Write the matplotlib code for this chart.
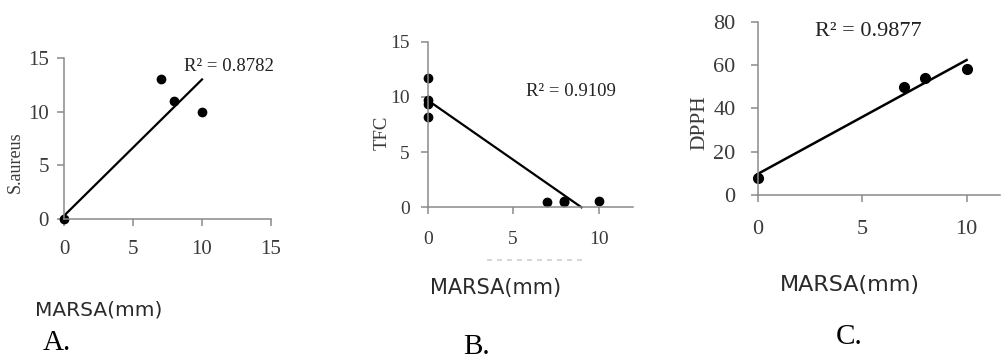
import matplotlib
matplotlib.use("Agg")
import matplotlib.pyplot as plt
from matplotlib.lines import Line2D

""" Data read from the three panels """
# A. S.aureus vs MARSA
a_x = [0, 7, 8, 10]
a_y = [0, 13, 11, 10]
a_fit_x = [0, 10]
a_fit_y = [0.3, 13.0]
a_r2 = "R² = 0.8782"

# B. TFC vs MARSA
b_x = [0, 0, 0, 0, 7, 8, 8, 10]
b_y = [11.7, 9.7, 9.4, 8.2, 0.5, 0.5, 0.6, 0.6]
b_fit_x = [0, 9.0]
b_fit_y = [9.7, 0]
b_r2 = "R² = 0.9109"

# C. DPPH vs MARSA
c_x = [0, 7, 8, 10]
c_y = [8, 50, 54, 58]
c_fit_x = [0, 10]
c_fit_y = [9.7, 62.3]
c_r2 = "R² = 0.9877"

serif = "Liberation Serif"
tick_col = "#3a3a3a"
axis_col = "#8a8a8a"

W, H = 1001, 358
fig = plt.figure(figsize=(W / 100, H / 100), dpi=100)


def px_axes(left, top, right, bottom):
    return fig.add_axes([left / W, 1 - bottom / H, (right - left) / W, (bottom - top) / H])


def style(ax, xlim, ylim, xticks, yticks, fs, xpad, ypad):
    ax.set_xlim(*xlim)
    ax.set_ylim(*ylim)
    ax.set_xticks(xticks)
    ax.set_yticks(yticks)
    for s in ["top", "right"]:
        ax.spines[s].set_visible(False)
    for s in ["left", "bottom"]:
        ax.spines[s].set_color(axis_col)
        ax.spines[s].set_linewidth(1.1)
    ax.tick_params(colors=axis_col, width=1.1, length=5, labelcolor=tick_col, labelsize=fs)
    for lab in ax.get_xticklabels() + ax.get_yticklabels():
        lab.set_family(serif)
    ax.tick_params(axis="x", pad=xpad)
    ax.tick_params(axis="y", pad=ypad)
    ax.patch.set_alpha(0)


# panel A
ax1 = px_axes(64, 58, 271, 219)
style(ax1, (0, 15), (0, 15), [0, 5, 10, 15], [0, 5, 10, 15], 15, 10, 6)
ax1.plot(a_fit_x, a_fit_y, color="black", lw=1.6, clip_on=False)
ax1.plot(a_x, a_y, "o", color="black", ms=6, clip_on=False)
ax1.text(11.96, 14.2, a_r2, ha="center", va="center", family=serif, fontsize=13.5, color="#222222")
ax1.text(-0.237, 0.354, "S.aureus", rotation=90, ha="center", va="center",
         transform=ax1.transAxes, family=serif, fontsize=13, color=tick_col)

# panel B
ax2 = px_axes(427.7, 41.7, 632.7, 207.3)
style(ax2, (0, 12), (0, 15), [0, 5, 10], [0, 5, 10, 15], 14, 12, 8)
ax2.plot(b_fit_x, b_fit_y, color="black", lw=1.6, clip_on=False)
ax2.plot(b_x, b_y, "o", color="black", ms=6, clip_on=False)
ax2.text(8.41, 10.47, b_r2, ha="center", va="center", family=serif, fontsize=13.5, color="#222222")
ax2.text((381.7 - 427.7) / 205, (207.3 - 133) / 165.6, "TFC", rotation=90, ha="center",
         va="center", transform=ax2.transAxes, family=serif, fontsize=13.5, color=tick_col)

# panel C
ax3 = px_axes(757.7, 21.7, 1000, 195)
style(ax3, (0, 11.6), (0, 80), [0, 5, 10], [0, 20, 40, 60, 80], 16, 13, 11)
ax3.plot(c_fit_x, c_fit_y, color="black", lw=1.8, clip_on=False)
ax3.plot(c_x, c_y, "o", color="black", ms=7, clip_on=False)
ax3.text(5.28, 75.4, c_r2, ha="center", va="center", family=serif, fontsize=16, color="#222222")
ax3.text((700 - 757.7) / 242.3, (195 - 123) / 173.3, "DPPH", rotation=90, ha="center",
         va="center", transform=ax3.transAxes, family=serif, fontsize=15.5, color=tick_col)

# x titles and panel letters
for cx, cy, fs in [(99, 310, 14.5), (496, 288, 15), (850, 285, 16)]:
    fig.text(cx / W, 1 - cy / H, "MARSA(mm)", ha="center", va="center",
             family="DejaVu Sans", fontsize=fs, color="#2a2a2a")
for cx, cy, lab in [(57, 343, "A."), (477, 347, "B."), (849, 337, "C.")]:
    fig.text(cx / W, 1 - cy / H, lab, ha="center", va="center",
             family=serif, fontsize=21, color="black")

# faint leftover line under panel B
fig.add_artist(Line2D([487 / W, 585 / W], [1 - 260 / H, 1 - 260 / H], color="#d0d0d0",
                      lw=1.2, ls=(0, (3, 3))))

fig.savefig("out.png", dpi=100)
